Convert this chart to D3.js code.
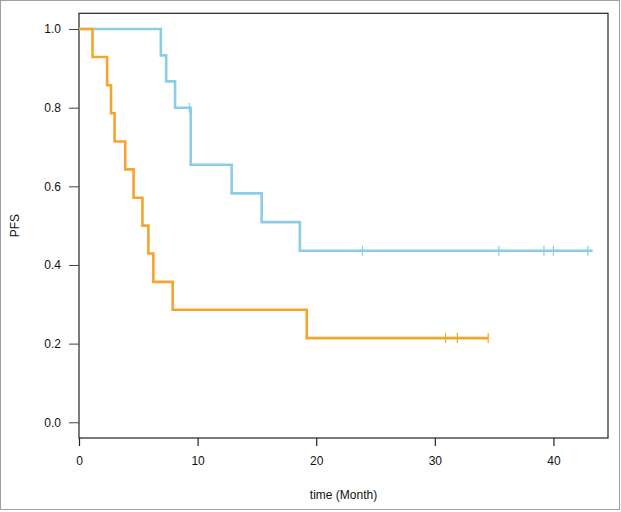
<!DOCTYPE html>
<html>
<head>
<meta charset="utf-8">
<script src="https://cdn.jsdelivr.net/npm/d3@7/dist/d3.min.js"></script>
<style>
  html, body { margin: 0; padding: 0; background: #fff; }
  svg { display: block; }
</style>
</head>
<body>
<svg id="chart" width="621" height="512"></svg>
<script>
// ---- data ----
const groups = ["blue", "orange"];
// blue group: event times and survival after each event
const blueTimes = [6.9, 7.35, 8.1, 9.42, 12.87, 15.4, 18.62];
const blueSurv  = [0.933, 0.867, 0.8, 0.655, 0.582, 0.509, 0.436];
const blueCensor = [9.3, 23.9, 35.4, 39.2, 40.0, 42.9];
const blueEnd = 43.3;
// orange group
const orangeTimes = [1.14, 2.37, 2.7, 3.0, 3.9, 4.6, 5.35, 5.85, 6.27, 7.9, 19.2];
const orangeSurv  = [0.929, 0.857, 0.786, 0.714, 0.643, 0.571, 0.5, 0.429, 0.357, 0.286, 0.214];
const orangeCensor = [30.9, 31.9, 34.5];
const orangeEnd = 34.5;
// axes
const xTicks = [0, 10, 20, 30, 40];
const yTicks = [0, 0.2, 0.4, 0.6, 0.8, 1.0];
const xLabel = "time (Month)";
const yLabel = "PFS";

// ---- layout ----
const svg = d3.select("#chart");
const L = 79, R = 608, T = 13.3, B = 438;
const x = d3.scaleLinear().domain([0, 44.6]).range([L, R]);
const y = d3.scaleLinear().domain([-0.04, 1.04]).range([B, T]);

const font = "'Liberation Sans', Arial, Helvetica, sans-serif";

// outer border
svg.append("rect").attr("x", 0.5).attr("y", 0.5).attr("width", 619).attr("height", 509)
  .attr("fill", "none").attr("stroke", "#a0a0a0").attr("stroke-width", 1);

// plot box
svg.append("rect").attr("x", L).attr("y", T).attr("width", R - L).attr("height", B - T)
  .attr("fill", "none").attr("stroke", "#222").attr("stroke-width", 1.2);

// axes
const xAxis = d3.axisBottom(x).tickValues(xTicks).tickSize(8).tickPadding(10).tickFormat(d3.format("d"));
const gx = svg.append("g").attr("transform", `translate(0,${B})`).call(xAxis);
gx.select(".domain").remove();
gx.selectAll("line").attr("stroke", "#222").attr("stroke-width", 1.2);
gx.selectAll("text").attr("font-family", font).attr("font-size", 12).attr("fill", "#111");

const yAxis = d3.axisLeft(y).tickValues(yTicks).tickSize(10).tickPadding(8).tickFormat(d3.format(".1f"));
const gy = svg.append("g").attr("transform", `translate(${L},0)`).call(yAxis);
gy.select(".domain").remove();
gy.selectAll("line").attr("stroke", "#444").attr("stroke-width", 1);
gy.selectAll("text").attr("font-family", font).attr("font-size", 12).attr("fill", "#111");

// axis titles
svg.append("text").attr("x", (L + R) / 2).attr("y", 499).attr("text-anchor", "middle")
  .attr("font-family", font).attr("font-size", 12).attr("fill", "#111").text(xLabel);
svg.append("text").attr("transform", `translate(19,${y(0.5)}) rotate(-90)`).attr("text-anchor", "middle")
  .attr("font-family", font).attr("font-size", 12).attr("fill", "#111").text(yLabel);

// ---- KM curves ----
function stepPoints(times, surv, end) {
  const pts = [[0, 1]];
  let s = 1;
  times.forEach((t, i) => { pts.push([t, s]); s = surv[i]; pts.push([t, s]); });
  pts.push([end, s]);
  return pts;
}
function survAt(times, surv, t) {
  let s = 1;
  times.forEach((tt, i) => { if (tt <= t) s = surv[i]; });
  return s;
}
const series = [
  { name: "blue", times: blueTimes, surv: blueSurv, censor: blueCensor, end: blueEnd, color: "#8ccde6" },
  { name: "orange", times: orangeTimes, surv: orangeSurv, censor: orangeCensor, end: orangeEnd, color: "#f4a52c" }
];
const line = d3.line().x(d => x(d[0])).y(d => y(d[1]));
series.forEach(sr => {
  svg.append("path").datum(stepPoints(sr.times, sr.surv, sr.end))
    .attr("d", line).attr("fill", "none").attr("stroke", sr.color)
    .attr("stroke-width", 2.6).attr("stroke-linejoin", "miter").attr("stroke-linecap", "butt");
  svg.append("g").selectAll("line").data(sr.censor).join("line")
    .attr("x1", d => x(d)).attr("x2", d => x(d))
    .attr("y1", d => y(survAt(sr.times, sr.surv, d)) - 5)
    .attr("y2", d => y(survAt(sr.times, sr.surv, d)) + 5)
    .attr("stroke", sr.color).attr("stroke-width", 1.2);
});
</script>
</body>
</html>
